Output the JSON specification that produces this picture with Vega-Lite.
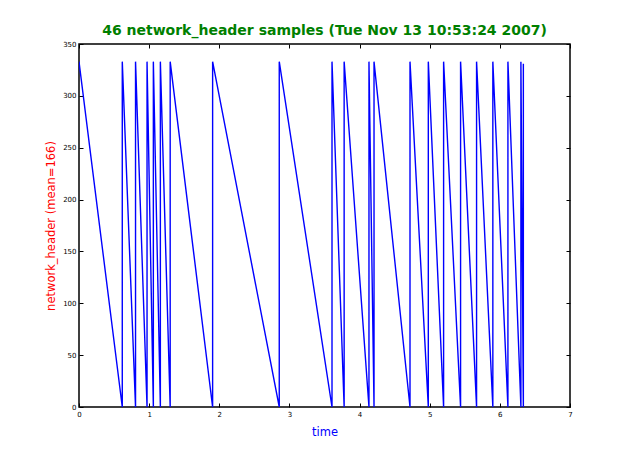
{
  "$schema": "https://vega.github.io/schema/vega-lite/v6.json",
  "width": 491,
  "height": 363,
  "autosize": {"type": "none"},
  "padding": {"left": 79, "top": 44, "right": 63, "bottom": 46},
  "background": "white",
  "title": {
    "text": "46 network_header samples (Tue Nov 13 10:53:24 2007)",
    "color": "green",
    "font": "DejaVu Sans",
    "fontSize": 14,
    "fontWeight": "bold",
    "offset": 2
  },
  "config": {
    "view": {"stroke": "black", "strokeWidth": 1.5},
    "axis": {
      "grid": false,
      "domain": false,
      "tickColor": "black",
      "tickSize": -4,
      "labelFlush": false,
      "labelFont": "DejaVu Sans",
      "labelFontSize": 7,
      "labelColor": "black",
      "titleFont": "DejaVu Sans",
      "titleFontSize": 11.5,
      "titleFontWeight": "normal"
    }
  },
  "data": {
    "values": [
      {"i": 0, "time": 0.0, "value": 333},
      {"i": 1, "time": 0.617, "value": 0},
      {"i": 2, "time": 0.617, "value": 333},
      {"i": 3, "time": 0.806, "value": 0},
      {"i": 4, "time": 0.806, "value": 333},
      {"i": 5, "time": 0.97, "value": 0},
      {"i": 6, "time": 0.97, "value": 333},
      {"i": 7, "time": 1.06, "value": 0},
      {"i": 8, "time": 1.06, "value": 333},
      {"i": 9, "time": 1.16, "value": 0},
      {"i": 10, "time": 1.16, "value": 333},
      {"i": 11, "time": 1.3, "value": 0},
      {"i": 12, "time": 1.3, "value": 333},
      {"i": 13, "time": 1.905, "value": 0},
      {"i": 14, "time": 1.905, "value": 333},
      {"i": 15, "time": 2.855, "value": 0},
      {"i": 16, "time": 2.855, "value": 333},
      {"i": 17, "time": 3.607, "value": 0},
      {"i": 18, "time": 3.607, "value": 333},
      {"i": 19, "time": 3.78, "value": 0},
      {"i": 20, "time": 3.78, "value": 333},
      {"i": 21, "time": 4.134, "value": 0},
      {"i": 22, "time": 4.134, "value": 333},
      {"i": 23, "time": 4.206, "value": 0},
      {"i": 24, "time": 4.206, "value": 333},
      {"i": 25, "time": 4.719, "value": 0},
      {"i": 26, "time": 4.719, "value": 333},
      {"i": 27, "time": 4.98, "value": 0},
      {"i": 28, "time": 4.98, "value": 333},
      {"i": 29, "time": 5.198, "value": 0},
      {"i": 30, "time": 5.198, "value": 333},
      {"i": 31, "time": 5.44, "value": 0},
      {"i": 32, "time": 5.44, "value": 333},
      {"i": 33, "time": 5.668, "value": 0},
      {"i": 34, "time": 5.668, "value": 333},
      {"i": 35, "time": 5.9, "value": 0},
      {"i": 36, "time": 5.9, "value": 333},
      {"i": 37, "time": 6.115, "value": 0},
      {"i": 38, "time": 6.115, "value": 333},
      {"i": 39, "time": 6.3, "value": 0},
      {"i": 40, "time": 6.3, "value": 333},
      {"i": 41, "time": 6.335, "value": 0},
      {"i": 42, "time": 6.335, "value": 331}
    ]
  },
  "layer": [
    {
      "mark": {"type": "line", "color": "#0000ff", "strokeWidth": 1.4, "clip": true},
      "encoding": {
        "x": {
          "field": "time", "type": "quantitative",
          "scale": {"domain": [0, 7], "nice": false, "zero": false},
          "axis": {"values": [0,1,2,3,4,5,6,7], "title": "time", "titleColor": "blue", "labelPadding": 7, "titlePadding": 9}
        },
        "y": {
          "field": "value", "type": "quantitative",
          "scale": {"domain": [0, 350], "nice": false},
          "axis": {"values": [0,50,100,150,200,250,300,350], "title": "network_header (mean=166)", "titleColor": "red", "labelPadding": 7, "titlePadding": 6}
        },
        "order": {"field": "i", "type": "quantitative"}
      }
    },
    {
      "mark": {"type": "line", "opacity": 0},
      "encoding": {
        "x": {
          "field": "time", "type": "quantitative",
          "scale": {"domain": [0, 7], "nice": false, "zero": false},
          "axis": {"orient": "top", "values": [0,1,2,3,4,5,6,7], "labels": false, "title": null}
        },
        "y": {
          "field": "value", "type": "quantitative",
          "scale": {"domain": [0, 350], "nice": false},
          "axis": {"orient": "right", "values": [0,50,100,150,200,250,300,350], "labels": false, "title": null}
        },
        "order": {"field": "i", "type": "quantitative"}
      }
    }
  ],
  "resolve": {"axis": {"x": "independent", "y": "independent"}}
}
